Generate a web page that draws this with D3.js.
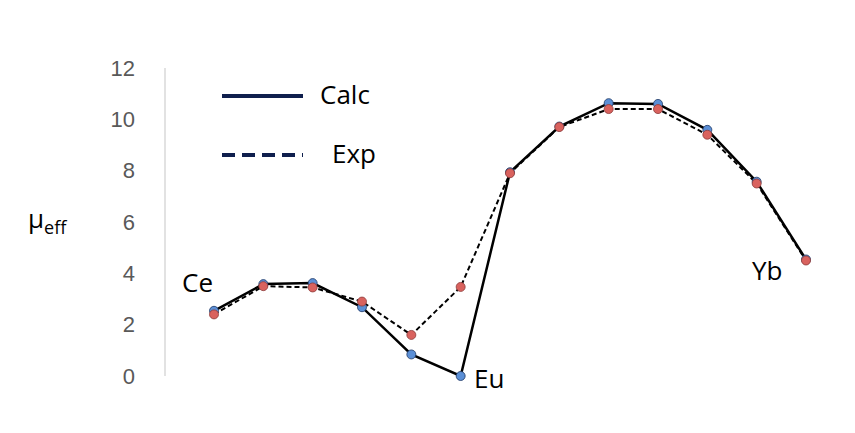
<!DOCTYPE html>
<html>
<head>
<style>
  body{ margin:0; background:#fff; font-family:"Open Sans", "Liberation Sans", sans-serif; }
  .tick text{ fill:#595959; font-size:22px; }
</style>
<script src="https://d3js.org/d3.v7.min.js"></script>
</head>
<body>
<svg id="chart" width="855" height="433"></svg>
<script>
const elements = ['Ce','Pr','Nd','Pm','Sm','Eu','Gd','Tb','Dy','Ho','Er','Tm','Yb'];
const calc = [2.54, 3.58, 3.62, 2.68, 0.84, 0, 7.94, 9.72, 10.63, 10.6, 9.59, 7.57, 4.54];
const exp  = [2.4, 3.5, 3.45, 2.9, 1.6, 3.47, 7.9, 9.7, 10.4, 10.4, 9.4, 7.5, 4.5];
const yTicks = [0, 2, 4, 6, 8, 10, 12];

const svg = d3.select('#chart');

const x = d3.scalePoint().domain(elements).range([214, 806]);
const y = d3.scaleLinear().domain([0, 12]).range([376, 68]);

// axis
svg.append('line')
  .attr('x1', 165).attr('x2', 165)
  .attr('y1', y(12)).attr('y2', y(0))
  .attr('stroke', '#d9d9d9').attr('stroke-width', 1.5);

svg.append('g')
  .attr('transform', 'translate(135,0)')
  .call(d3.axisLeft(y).tickValues(yTicks).tickSize(0).tickPadding(0))
  .call(g => g.select('.domain').remove())
  .call(g => g.selectAll('text').attr('text-anchor', 'end'));

const line = d3.line().x((d, i) => x(elements[i])).y(d => y(d));

svg.append('path').datum(exp)
  .attr('d', line).attr('fill', 'none')
  .attr('stroke', '#000').attr('stroke-width', 2).attr('stroke-dasharray', '5,3');

svg.append('path').datum(calc)
  .attr('d', line).attr('fill', 'none')
  .attr('stroke', '#000').attr('stroke-width', 2.5);

svg.selectAll('.calc-pt').data(calc).enter().append('circle')
  .attr('cx', (d, i) => x(elements[i])).attr('cy', d => y(d)).attr('r', 4.5)
  .attr('fill', '#5b8fd6').attr('stroke', '#1f3864').attr('stroke-width', 0.8);

svg.selectAll('.exp-pt').data(exp).enter().append('circle')
  .attr('cx', (d, i) => x(elements[i])).attr('cy', d => y(d)).attr('r', 4.5)
  .attr('fill', '#d9625e').attr('stroke', '#8c3a38').attr('stroke-width', 0.8);

// legend
svg.append('line').attr('x1', 222).attr('x2', 303).attr('y1', 96).attr('y2', 96)
  .attr('stroke', '#0f1f4d').attr('stroke-width', 4);
svg.append('text').attr('x', 320).attr('y', 104).attr('font-size', 26).attr('fill', '#000').text('Calc');
svg.append('line').attr('x1', 222).attr('x2', 303).attr('y1', 155).attr('y2', 155)
  .attr('stroke', '#0f1f4d').attr('stroke-width', 4).attr('stroke-dasharray', '13,7');
svg.append('text').attr('x', 332).attr('y', 163).attr('font-size', 26).attr('fill', '#000').text('Exp');

// y label
const yl = svg.append('text').attr('x', 28).attr('y', 228).attr('font-size', 26).attr('fill', '#000');
yl.append('tspan').text('μ');
yl.append('tspan').attr('font-size', 18).attr('dy', 6).text('eff');

// element labels
svg.append('text').attr('x', 182).attr('y', 292).attr('font-size', 26).text('Ce');
svg.append('text').attr('x', 474).attr('y', 388).attr('font-size', 26).text('Eu');
svg.append('text').attr('x', 752).attr('y', 280).attr('font-size', 26).text('Yb');
</script>
</body>
</html>
